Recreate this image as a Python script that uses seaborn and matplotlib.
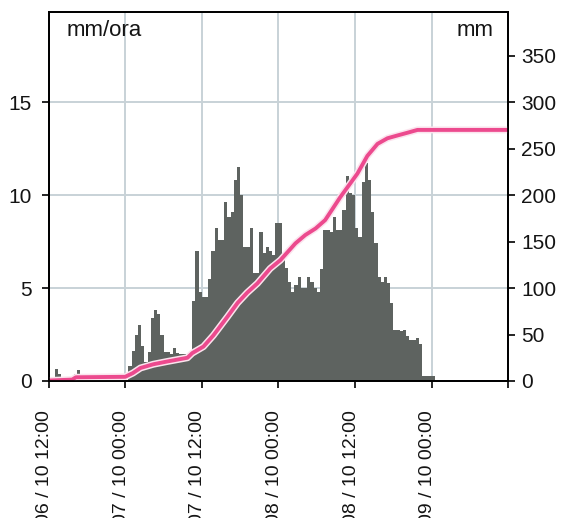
import numpy as np
import pandas as pd
import matplotlib
matplotlib.use("Agg")
import matplotlib.pyplot as plt
import matplotlib.patheffects as pe
from matplotlib.transforms import ScaledTranslation
import seaborn as sns

# Half-hourly rainfall intensity (mm/ora), starting 06/10 12:00
rate = [
    0.0, 0.0, 0.65, 0.4, 0.0, 0.0, 0.0, 0.0, 0.35, 0.6,
    0.0, 0.0, 0.0, 0.0, 0.0, 0.0, 0.0, 0.0, 0.35, 0.0,
    0.0, 0.0, 0.0, 0.0, 0.0, 0.8, 1.6, 2.5, 3.0, 1.9,
    1.0, 1.55, 3.4, 3.8, 3.6, 2.5, 1.55, 1.55, 1.45, 1.75,
    1.5, 1.45, 1.45, 1.3, 1.3, 4.3, 7.0, 4.8, 4.5, 4.5,
    5.5, 7.0, 8.2, 7.6, 7.6, 9.6, 8.8, 9.1, 10.8, 11.5,
    10.0, 7.2, 7.2, 8.2, 5.8, 5.8, 8.0, 6.9, 7.2, 7.0,
    6.8, 8.5, 8.5, 6.6, 6.1, 5.3, 4.8, 5.15, 5.6, 5.0,
    5.0, 5.6, 5.3, 5.0, 4.8, 6.0, 8.1, 8.1, 8.0, 8.8,
    8.1, 8.1, 9.2, 11.0, 10.1, 10.0, 8.2, 7.75, 10.7, 11.7,
    10.8, 9.1, 7.4, 5.6, 5.3, 5.6, 5.25, 4.2, 2.75, 2.75,
    2.7, 2.75, 2.4, 2.2, 2.2, 2.3, 2.0, 0.25, 0.25, 0.25,
    0.25,
]
step_h = 0.5          # interval length in hours
span_h = 72           # 06/10 12:00 -> 09/10 12:00

# Cumulative rainfall (mm) at hours after 06/10 12:00
cum_hours = [0.0, 3.7, 4.3, 12.0, 13.2, 14.4, 16.4, 18.6, 21.75, 22.5,
             24.25, 25.8, 28.0, 29.6, 31.1, 32.7, 34.7, 36.3, 38.65, 40.2,
             41.8, 43.3, 45.7, 48.35, 49.9, 51.5, 53.05, 54.6, 56.2, 57.75,
             72.0]
cum_mm = [0.5, 1.5, 4.0, 4.5, 8.5, 14.0, 18.0, 21.0, 25.0, 30.0,
          37.0, 49.0, 69.0, 84.0, 95.0, 105.0, 121.0, 130.0, 148.0, 157.0,
          164.0, 173.0, 198.0, 223.0, 242.0, 255.0, 261.0, 264.0, 267.0, 270.0,
          270.0]

tick_hours = [0, 12, 24, 36, 48, 60, 72]
tick_labels = ["06 / 10 12:00", "07 / 10 00:00", "07 / 10 12:00",
               "08 / 10 00:00", "08 / 10 12:00", "09 / 10 00:00", ""]
left_ticks = [0, 5, 10, 15]
right_ticks = [0, 50, 100, 150, 200, 250, 300, 350]

bar_color = "#5e6360"
line_color = "#ec4a8e"
grid_color = "#c8d2d7"
text_color = "#141414"

n = len(rate)
df = pd.DataFrame({"mid": np.arange(n) * step_h + step_h / 2, "rate": rate})
cum = pd.DataFrame({"t": cum_hours, "mm": cum_mm})

sns.set_theme(style="white")
plt.rcParams["font.family"] = ["Liberation Sans", "DejaVu Sans"]
plt.rcParams["text.color"] = text_color
plt.rcParams["xtick.color"] = text_color
plt.rcParams["ytick.color"] = text_color

W, H = 567, 518
fig = plt.figure(figsize=(W / 100, H / 100), dpi=100)
ax = fig.add_axes([48.5 / W, 1 - 381 / H, 460 / W, 369 / H])

sns.barplot(data=df, x="mid", y="rate", ax=ax, native_scale=True,
            orient="x", width=1.0, color=bar_color, saturation=1,
            linewidth=0, errorbar=None, zorder=2)

ax.set_xlim(0, span_h)
ax.set_ylim(0, 19.84)
ax.set_axisbelow(True)
ax.grid(True, color=grid_color, linewidth=1.4)
ax.set_xticks(tick_hours)
ax.set_xticklabels(tick_labels, rotation=90, fontsize=14)
ax.set_yticks(left_ticks)
ax.set_yticklabels([str(v) for v in left_ticks], fontsize=15)
ax.tick_params(axis="x", direction="out", length=5, width=1.2,
               color="black", pad=16, bottom=True)
ax.tick_params(axis="y", direction="out", length=5, width=1.2,
               color="black", pad=7, left=True)
ax.set_xlabel("")
ax.set_ylabel("")
for lab in ax.get_xticklabels():
    lab.set_transform(lab.get_transform()
                      + ScaledTranslation(-4 / 100, 0, fig.dpi_scale_trans))

ax2 = ax.twinx()
sns.lineplot(data=cum, x="t", y="mm", ax=ax2, color=line_color,
             linewidth=2.8,
             path_effects=[pe.Stroke(linewidth=5, foreground="#fbe3ed"),
                           pe.Normal()])
ax2.set_ylim(0, 396.8)
ax2.set_yticks(right_ticks)
ax2.set_yticklabels([str(v) for v in right_ticks], fontsize=15)
ax2.tick_params(axis="y", direction="out", length=5, width=1.2,
                color="black", pad=4, right=True)
ax2.set_ylabel("")
ax2.set_xlabel("")
ax2.grid(False)

for a in (ax, ax2):
    for s in a.spines.values():
        s.set_visible(True)
        s.set_color("black")
        s.set_linewidth(1.3)

ax.text(0.039, 0.935, "mm/ora", transform=ax.transAxes, fontsize=16,
        ha="left", va="baseline")
ax.text(0.967, 0.935, "mm", transform=ax.transAxes, fontsize=16,
        ha="right", va="baseline")

fig.savefig("out.png", dpi=100)
